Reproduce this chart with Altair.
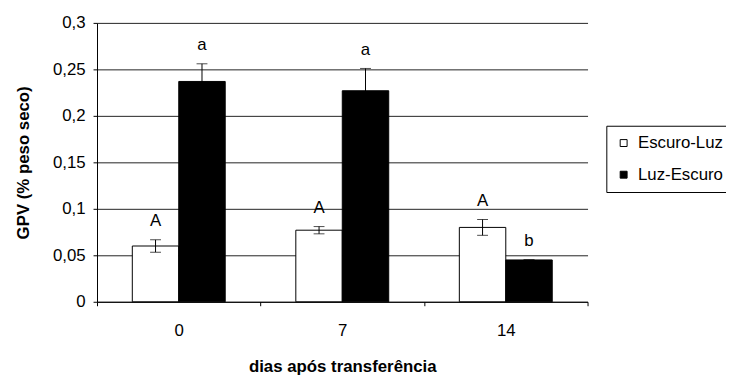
import altair as alt
import pandas as pd

days = ["0", "7", "14"]
groups = ["Escuro-Luz", "Luz-Escuro"]
escuro_luz = [0.060, 0.077, 0.080]
escuro_luz_err = [0.0066, 0.0039, 0.0085]
luz_escuro = [0.237, 0.227, 0.045]
luz_escuro_err = [0.019, 0.024, 0.0]
letters_el = ["A", "A", "A"]
letters_le = ["a", "a", "b"]

rows = []
for i, d in enumerate(days):
    rows.append({"day": d, "group": groups[0], "value": escuro_luz[i],
                 "err": escuro_luz_err[i], "label": letters_el[i]})
    rows.append({"day": d, "group": groups[1], "value": luz_escuro[i],
                 "err": luz_escuro_err[i], "label": letters_le[i]})
df = pd.DataFrame(rows)
df["lo"] = df["value"] - df["err"]
df["hi"] = df["value"] + df["err"]

FONT = "Liberation Sans"

x_enc = alt.X(
    "day:N", sort=days,
    scale=alt.Scale(paddingInner=0, paddingOuter=0),
    axis=alt.Axis(
        title="dias após transferência", labelAngle=0, tickBand="extent",
        tickSize=4, labelPadding=17, titlePadding=21, grid=False,
        labelFontSize=17, titleFontSize=17, titleFontWeight="bold",
        domainColor="black", tickColor="black", labelColor="black",
        titleColor="black",
    ),
)
xoff = alt.XOffset("group:N", sort=groups,
                   scale=alt.Scale(paddingInner=0, paddingOuter=0.76))

y_axis = alt.Axis(
    title="GPV (% peso seco)",
    values=[0, 0.05, 0.1, 0.15, 0.2, 0.25, 0.3],
    labelExpr="replace(format(datum.value, '~g'), '.', ',')",
    tickSize=4, labelPadding=8, titlePadding=20,
    labelFontSize=17, titleFontSize=17, titleFontWeight="bold",
    domainColor="black", tickColor="black", labelColor="black",
    titleColor="black", grid=True, gridColor="#222222", gridWidth=1,
)
y_scale = alt.Scale(domain=[0, 0.3], nice=False, zero=True)

base = alt.Chart(df)

bars = base.mark_bar(stroke="black", strokeWidth=1).encode(
    x=x_enc, xOffset=xoff,
    y=alt.Y("value:Q", scale=y_scale, axis=y_axis),
    color=alt.Color(
        "group:N", sort=groups,
        scale=alt.Scale(domain=groups, range=["white", "black"]),
        legend=alt.Legend(
            title=None, orient="none", legendX=515, legendY=104,
            strokeColor="black", padding=9, cornerRadius=0,
            symbolType="square", symbolSize=49, symbolStrokeColor="black",
            symbolStrokeWidth=1, labelFontSize=17, labelColor="black",
            labelOffset=6, rowPadding=14, labelLimit=400,
            labelExpr="datum.label + '                    '",
        ),
    ),
)

rules = base.mark_rule(color="black", strokeWidth=1).encode(
    x=x_enc, xOffset=xoff,
    y=alt.Y("lo:Q", scale=y_scale, axis=y_axis), y2="hi:Q",
)
caps_lo = base.mark_tick(color="black", size=11, thickness=1).encode(
    x=x_enc, xOffset=xoff, y=alt.Y("lo:Q", scale=y_scale, axis=y_axis),
)
caps_hi = base.mark_tick(color="black", size=11, thickness=1).encode(
    x=x_enc, xOffset=xoff, y=alt.Y("hi:Q", scale=y_scale, axis=y_axis),
)
letters = base.mark_text(dy=-14, fontSize=17, color="black",
                         baseline="alphabetic").encode(
    x=x_enc, xOffset=xoff, y=alt.Y("hi:Q", scale=y_scale, axis=y_axis),
    text="label:N",
)

chart = alt.layer(bars, rules, caps_lo, caps_hi, letters).properties(
    width=496, height=282,
    autosize=alt.AutoSizeParams(type="none"),
    padding={"left": 90, "top": 13, "right": 140, "bottom": 74},
).configure(font=FONT).configure_view(stroke=None)

chart.save("out.html", embed_options={"renderer": "svg", "actions": False})
